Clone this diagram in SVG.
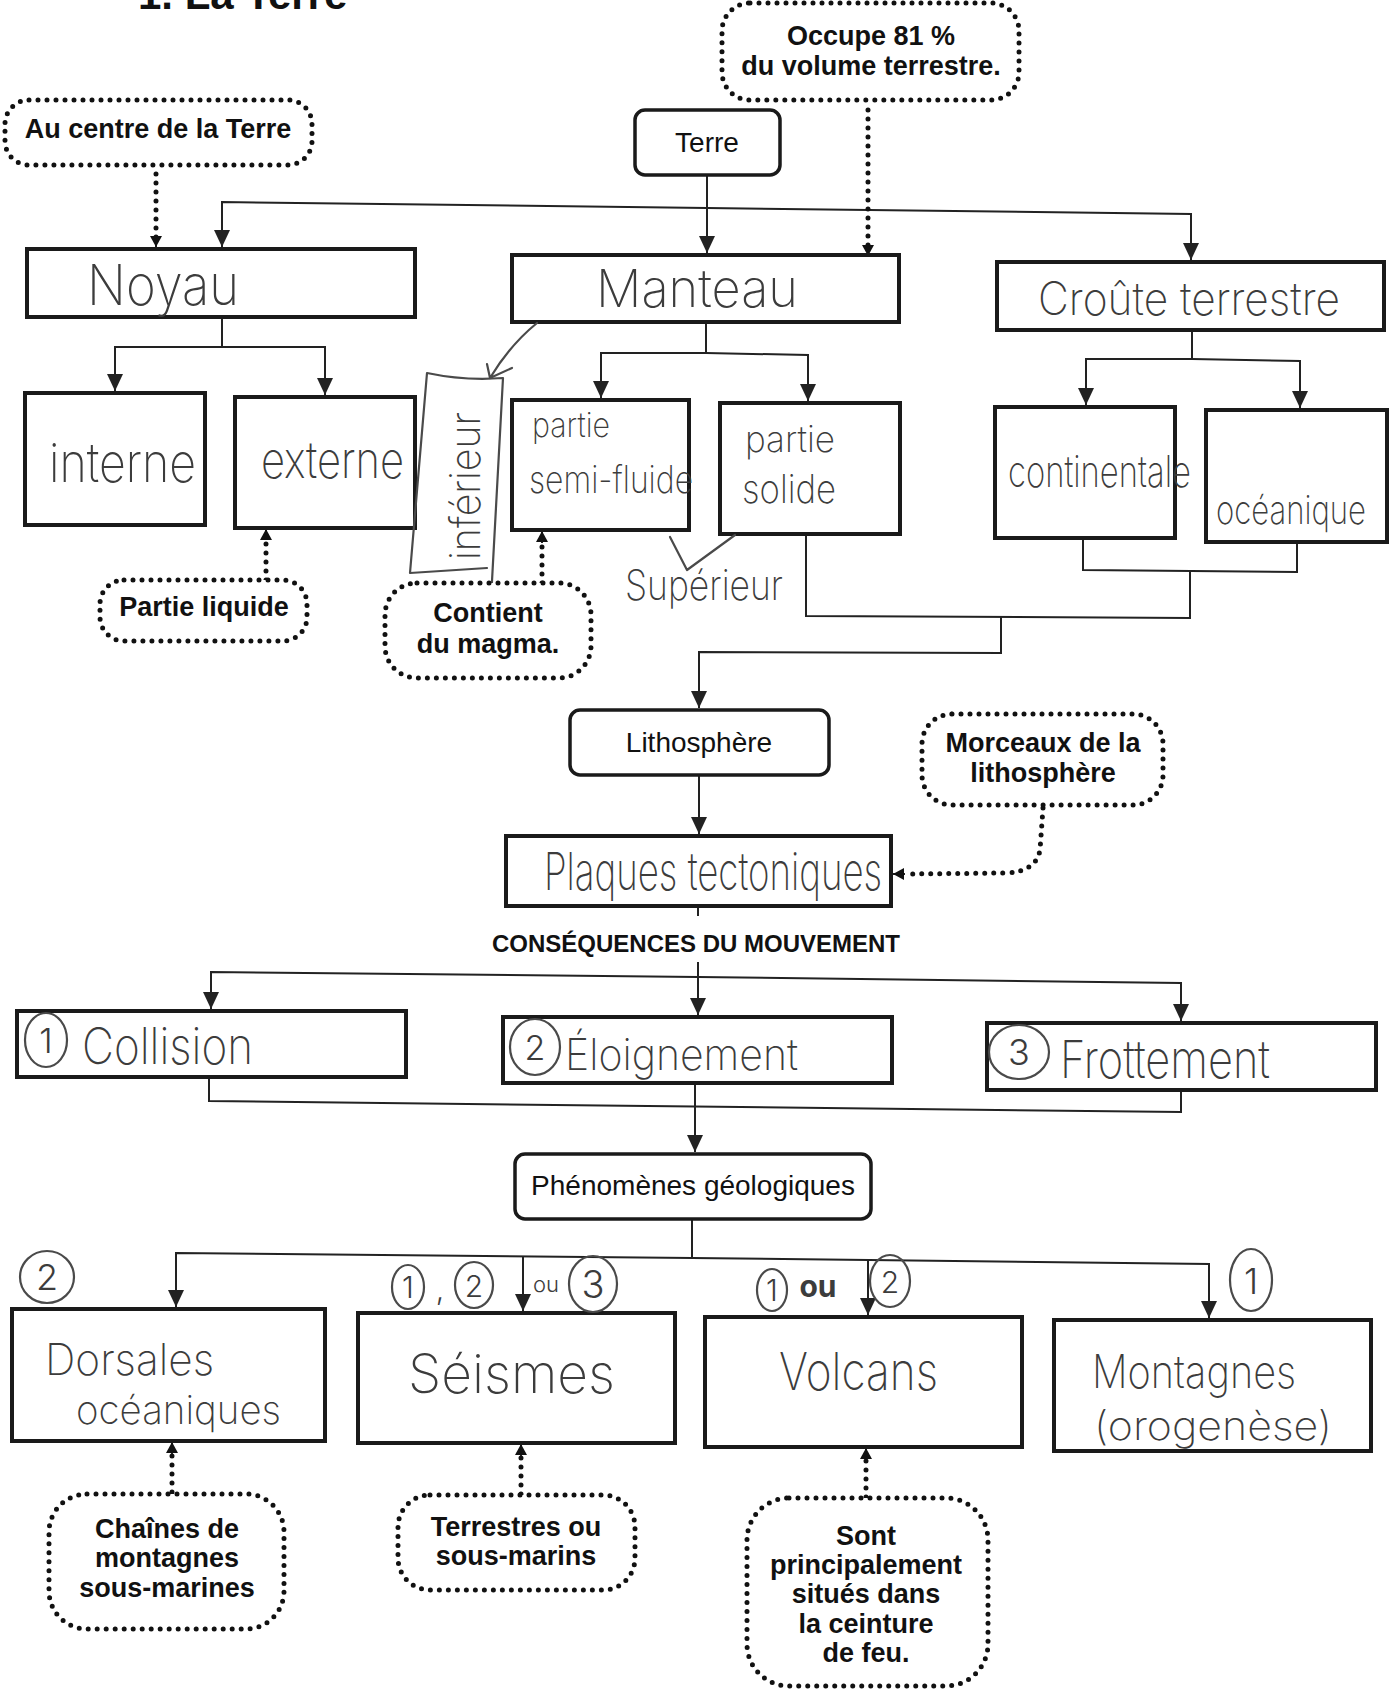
<svg xmlns="http://www.w3.org/2000/svg" width="1397" height="1691" viewBox="0 0 1397 1691">
<defs>
<style>
.box{fill:#fff;stroke:#1a1a1a;stroke-width:4}
.rbox{fill:#fff;stroke:#1a1a1a;stroke-width:3.5}
.dbox{fill:#fff;stroke:#111;stroke-width:5;stroke-linecap:round;stroke-dasharray:0 9}
.conn{fill:none;stroke:#222;stroke-width:2}
.dconn{fill:none;stroke:#111;stroke-width:5;stroke-linecap:round;stroke-dasharray:0 9}
.hw{font-family:Inter,"Open Sans",Lato,sans-serif;font-weight:200;fill:#3c3c3c}
.pen{fill:none;stroke:#4a4a4a;stroke-width:2.2;stroke-linecap:round;stroke-linejoin:round}
.pb{font-family:"Liberation Sans",Arial,sans-serif;font-weight:bold;font-size:27px;fill:#111;text-anchor:middle}
.pn{font-family:"Liberation Sans",Arial,sans-serif;font-size:28px;fill:#111;text-anchor:middle}
.num{font-family:Inter,"Open Sans",sans-serif;font-weight:300;fill:#3c3c3c;text-anchor:middle}
</style>
<marker id="a" markerUnits="userSpaceOnUse" markerWidth="18" markerHeight="16" viewBox="0 0 18 16" refX="17" refY="8" orient="auto">
<path d="M0,0 L17,8 L0,16 Z" fill="#222"/>
</marker>
<marker id="da" markerUnits="userSpaceOnUse" markerWidth="12" markerHeight="12" viewBox="0 0 12 12" refX="11" refY="6" orient="auto">
<path d="M0,0 L11,6 L0,12 Z" fill="#111"/>
</marker>
</defs>
<rect width="1397" height="1691" fill="#fff"/>

<text x="138" y="9" font-family="Liberation Sans,Arial,sans-serif" font-weight="bold" font-size="42" fill="#111">1. La Terre</text>

<g id="connectors">
<path class="conn" d="M707,175 V253" marker-end="url(#a)"/>
<path class="conn" d="M707,208 L222,202 V247" marker-end="url(#a)"/>
<path class="conn" d="M707,208 L1191,214 V260" marker-end="url(#a)"/>
<path class="conn" d="M222,317 V347 H115 V391" marker-end="url(#a)"/>
<path class="conn" d="M222,347 H325 V395" marker-end="url(#a)"/>
<path class="conn" d="M706,322 V353 H601 V398" marker-end="url(#a)"/>
<path class="conn" d="M706,353 L808,355 V401" marker-end="url(#a)"/>
<path class="conn" d="M1192,330 V359 H1086 V405" marker-end="url(#a)"/>
<path class="conn" d="M1192,359 L1300,361 V408" marker-end="url(#a)"/>
<path class="conn" d="M1083,538 V570 L1297,572 V542"/>
<path class="conn" d="M1190,571 V618 L806,616 V534"/>
<path class="conn" d="M1001,617 V653 L699,652 V708" marker-end="url(#a)"/>
<path class="conn" d="M699,775 V834" marker-end="url(#a)"/>
<path class="conn" d="M698,906 V916"/>
<path class="conn" d="M698,962 V1015" marker-end="url(#a)"/>
<path class="conn" d="M698,977 L211,972 V1009" marker-end="url(#a)"/>
<path class="conn" d="M698,977 L1181,983 V1021" marker-end="url(#a)"/>
<path class="conn" d="M209,1077 V1101 L1181,1112 V1090"/>
<path class="conn" d="M695,1083 V1152" marker-end="url(#a)"/>
<path class="conn" d="M692,1219 V1258 L176,1253 V1307" marker-end="url(#a)"/>
<path class="conn" d="M523,1256 V1311" marker-end="url(#a)"/>
<path class="conn" d="M692,1258 L1209,1264 V1318" marker-end="url(#a)"/>
<path class="conn" d="M868,1261 V1315" marker-end="url(#a)"/>
<path class="dconn" d="M156,174 V238"/>
<path class="conn" d="M156,238 V247" marker-end="url(#da)"/>
<path class="dconn" d="M868,110 V246"/>
<path class="conn" d="M868,246 V256" marker-end="url(#da)"/>
<path class="dconn" d="M266,580 V540"/>
<path class="conn" d="M266,540 V529" marker-end="url(#da)"/>
<path class="dconn" d="M542,583 V543"/>
<path class="conn" d="M542,543 V531" marker-end="url(#da)"/>
<path class="dconn" d="M1043,808 L1040,850 Q1036,872 1005,873 L905,874"/>
<path class="conn" d="M905,874 L893,874" marker-end="url(#da)"/>
<path class="dconn" d="M172,1492 V1454"/>
<path class="conn" d="M172,1454 V1442" marker-end="url(#da)"/>
<path class="dconn" d="M521,1494 V1456"/>
<path class="conn" d="M521,1456 V1444" marker-end="url(#da)"/>
<path class="dconn" d="M866,1497 V1459"/>
<path class="conn" d="M866,1459 V1448" marker-end="url(#da)"/>
</g>

<g id="au-centre">
<rect class="dbox" x="5" y="100" width="307" height="65" rx="24"/>
<text class="pb" x="158" y="138">Au centre de la Terre</text>
</g>
<g id="occupe">
<rect class="dbox" x="722" y="3" width="297" height="97" rx="28"/>
<text class="pb" x="871" y="45">Occupe 81 %</text>
<text class="pb" x="871" y="75">du volume terrestre.</text>
</g>
<g id="terre">
<rect class="rbox" x="635" y="110" width="145" height="65" rx="10"/>
<text class="pn" x="707" y="152">Terre</text>
</g>
<g id="noyau">
<rect class="box" x="27" y="249" width="388" height="68"/>
<text class="hw" x="87" y="305" font-size="56" textLength="152" lengthAdjust="spacingAndGlyphs">Noyau</text>
</g>
<g id="manteau">
<rect class="box" x="512" y="255" width="387" height="67"/>
<text class="hw" x="596" y="307" font-size="52" textLength="202" lengthAdjust="spacingAndGlyphs">Manteau</text>
</g>
<g id="croute">
<rect class="box" x="997" y="262" width="387" height="68"/>
<text class="hw" x="1038" y="315" font-size="46" textLength="302" lengthAdjust="spacingAndGlyphs">Croûte terrestre</text>
</g>
<g id="interne">
<rect class="box" x="25" y="393" width="180" height="132"/>
<text class="hw" x="49" y="482" font-size="54" textLength="147" lengthAdjust="spacingAndGlyphs">interne</text>
</g>
<g id="externe">
<rect class="box" x="235" y="397" width="180" height="131"/>
<text class="hw" x="261" y="478" font-size="50" textLength="143" lengthAdjust="spacingAndGlyphs">externe</text>
</g>
<g id="semi-fluide">
<rect class="box" x="512" y="400" width="177" height="130"/>
<text class="hw" x="532" y="437" font-size="34" textLength="78" lengthAdjust="spacingAndGlyphs">partie</text>
<text class="hw" x="529" y="493" font-size="38" textLength="164" lengthAdjust="spacingAndGlyphs">semi-fluide</text>
</g>
<g id="solide">
<rect class="box" x="720" y="403" width="180" height="131"/>
<text class="hw" x="745" y="452" font-size="36" textLength="90" lengthAdjust="spacingAndGlyphs">partie</text>
<text class="hw" x="742" y="503" font-size="40" textLength="94" lengthAdjust="spacingAndGlyphs">solide</text>
</g>
<g id="continentale">
<rect class="box" x="995" y="407" width="180" height="131"/>
<text class="hw" x="1008" y="487" font-size="44" textLength="183" lengthAdjust="spacingAndGlyphs">continentale</text>
</g>
<g id="oceanique">
<rect class="box" x="1206" y="410" width="181" height="132"/>
<text class="hw" x="1216" y="524" font-size="40" textLength="150" lengthAdjust="spacingAndGlyphs">océanique</text>
</g>
<g id="inferieur">
<path class="pen" d="M427,373 Q465,381 503,378 M427,373 L410,573 L487,568 M503,378 L490,618"/>
<path class="pen" d="M537,323 Q510,345 490,378 M512,368 L490,378 L487,364"/>
<text class="hw" transform="translate(480,560) rotate(-90)" x="0" y="0" font-size="42" textLength="148" lengthAdjust="spacingAndGlyphs">inférieur</text>
</g>
<g id="superieur">
<path class="pen" d="M670,537 L687,570 L735,535"/>
<text class="hw" x="625" y="600" font-size="42" textLength="158" lengthAdjust="spacingAndGlyphs">Supérieur</text>
</g>
<g id="partie-liquide">
<rect class="dbox" x="100" y="580" width="207" height="61" rx="24"/>
<text class="pb" x="204" y="616">Partie liquide</text>
</g>
<g id="contient">
<rect class="dbox" x="385" y="583" width="206" height="95" rx="32"/>
<text class="pb" x="488" y="622">Contient</text>
<text class="pb" x="488" y="653">du magma.</text>
</g>
<g id="lithosphere">
<rect class="rbox" x="570" y="710" width="259" height="65" rx="10"/>
<text class="pn" x="699" y="752">Lithosphère</text>
</g>
<g id="morceaux">
<rect class="dbox" x="922" y="714" width="241" height="91" rx="30"/>
<text class="pb" x="1043" y="752">Morceaux de la</text>
<text class="pb" x="1043" y="782">lithosphère</text>
</g>
<g id="plaques">
<rect class="box" x="506" y="836" width="385" height="70"/>
<text class="hw" x="544" y="890" font-size="52" textLength="338" lengthAdjust="spacingAndGlyphs">Plaques tectoniques</text>
</g>
<g id="consequences">
<text class="pb" x="696" y="952" style="font-size:24px">CONSÉQUENCES DU MOUVEMENT</text>
</g>
<g id="collision">
<rect class="box" x="17" y="1011" width="389" height="66"/>
<ellipse class="pen" cx="46" cy="1040" rx="21" ry="27"/>
<text class="num" x="46" y="1053" font-size="34">1</text>
<text class="hw" x="82" y="1064" font-size="50" textLength="171" lengthAdjust="spacingAndGlyphs">Collision</text>
</g>
<g id="eloignement">
<rect class="box" x="503" y="1017" width="389" height="66"/>
<ellipse class="pen" cx="535" cy="1047" rx="25" ry="28"/>
<text class="num" x="535" y="1060" font-size="34">2</text>
<text class="hw" x="565" y="1070" font-size="44" textLength="233" lengthAdjust="spacingAndGlyphs">Éloignement</text>
</g>
<g id="frottement">
<rect class="box" x="987" y="1023" width="389" height="67"/>
<ellipse class="pen" cx="1019" cy="1052" rx="30" ry="27"/>
<text class="num" x="1019" y="1065" font-size="36">3</text>
<text class="hw" x="1060" y="1078" font-size="52" textLength="210" lengthAdjust="spacingAndGlyphs">Frottement</text>
</g>
<g id="phenomenes">
<rect class="rbox" x="515" y="1154" width="356" height="65" rx="10"/>
<text class="pn" x="693" y="1195">Phénomènes géologiques</text>
</g>
<g id="dorsales">
<rect class="box" x="12" y="1309" width="313" height="132"/>
<ellipse class="pen" cx="47" cy="1277" rx="27" ry="26"/>
<text class="num" x="47" y="1290" font-size="36">2</text>
<text class="hw" x="45" y="1375" font-size="44" textLength="169" lengthAdjust="spacingAndGlyphs">Dorsales</text>
<text class="hw" x="76" y="1424" font-size="40" textLength="205" lengthAdjust="spacingAndGlyphs">océaniques</text>
</g>
<g id="seismes">
<rect class="box" x="358" y="1313" width="317" height="130"/>
<ellipse class="pen" cx="408" cy="1287" rx="16" ry="22"/>
<text class="num" x="408" y="1298" font-size="30">1</text>
<text class="num" x="440" y="1300" font-size="30">,</text>
<ellipse class="pen" cx="474" cy="1285" rx="19" ry="23"/>
<text class="num" x="474" y="1297" font-size="30">2</text>
<text class="num" x="546" y="1292" font-size="22">ou</text>
<ellipse class="pen" cx="593" cy="1284" rx="24" ry="28"/>
<text class="num" x="593" y="1298" font-size="38">3</text>
<text class="hw" x="408" y="1393" font-size="54" textLength="207" lengthAdjust="spacingAndGlyphs">Séismes</text>
</g>
<g id="volcans">
<rect class="box" x="705" y="1317" width="317" height="130"/>
<ellipse class="pen" cx="772" cy="1290" rx="15" ry="21"/>
<text class="num" x="772" y="1301" font-size="30">1</text>
<text class="num" x="818" y="1297" font-size="30" style="font-weight:700">ou</text>
<ellipse class="pen" cx="890" cy="1281" rx="20" ry="26"/>
<text class="num" x="890" y="1293" font-size="30">2</text>
<text class="hw" x="779" y="1390" font-size="52" textLength="159" lengthAdjust="spacingAndGlyphs">Volcans</text>
</g>
<g id="montagnes">
<rect class="box" x="1054" y="1320" width="317" height="131"/>
<ellipse class="pen" cx="1251" cy="1280" rx="21" ry="31"/>
<text class="num" x="1251" y="1294" font-size="36">1</text>
<text class="hw" x="1092" y="1388" font-size="46" textLength="204" lengthAdjust="spacingAndGlyphs">Montagnes</text>
<text class="hw" x="1094" y="1440" font-size="40" textLength="238" lengthAdjust="spacingAndGlyphs">(orogenèse)</text>
</g>
<g id="chaines">
<rect class="dbox" x="49" y="1494" width="235" height="135" rx="38"/>
<text class="pb" x="167" y="1538">Chaînes de</text>
<text class="pb" x="167" y="1567">montagnes</text>
<text class="pb" x="167" y="1597">sous-marines</text>
</g>
<g id="terrestres">
<rect class="dbox" x="398" y="1495" width="237" height="95" rx="32"/>
<text class="pb" x="516" y="1536">Terrestres ou</text>
<text class="pb" x="516" y="1565">sous-marins</text>
</g>
<g id="sont">
<rect class="dbox" x="747" y="1498" width="241" height="188" rx="42"/>
<text class="pb" x="866" y="1545">Sont</text>
<text class="pb" x="866" y="1574">principalement</text>
<text class="pb" x="866" y="1603">situés dans</text>
<text class="pb" x="866" y="1633">la ceinture</text>
<text class="pb" x="866" y="1662">de feu.</text>
</g>
</svg>
